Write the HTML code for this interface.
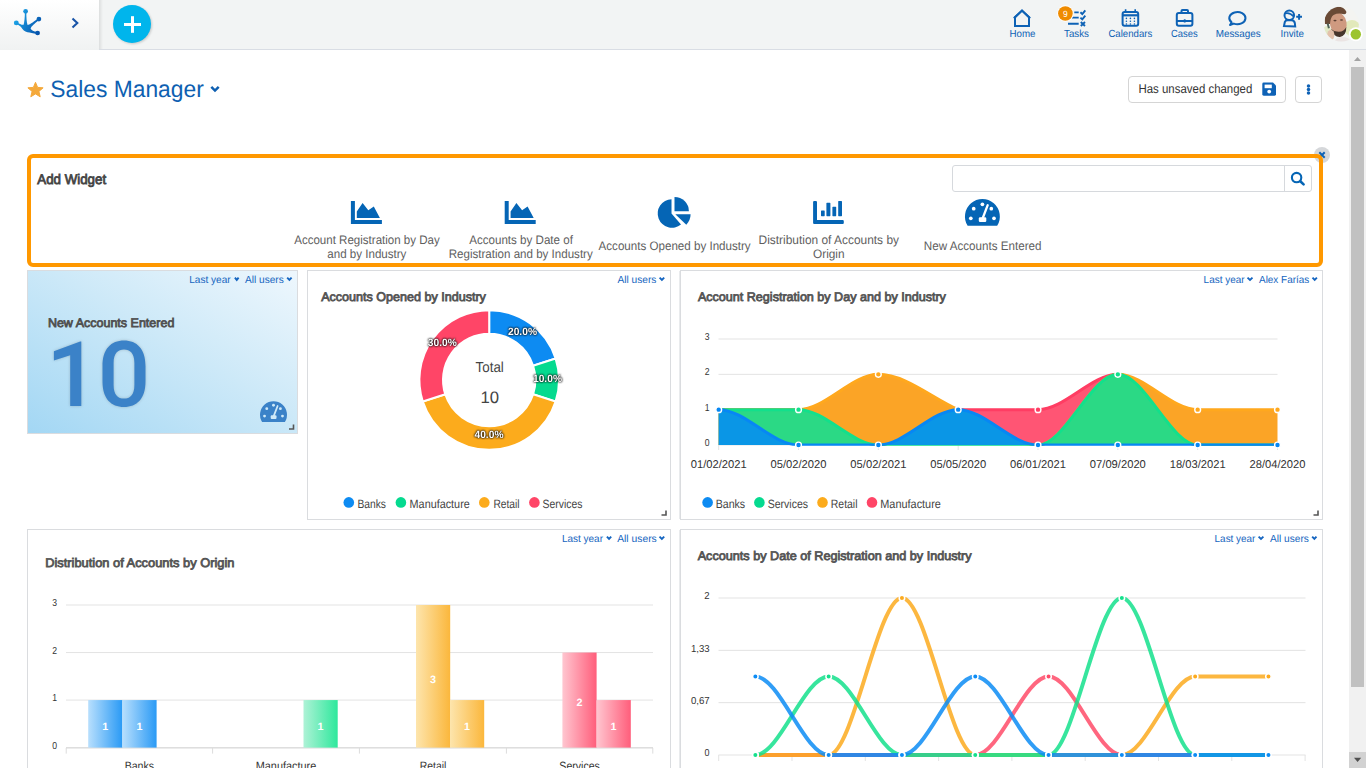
<!DOCTYPE html>
<html><head><meta charset="utf-8"><style>
*{margin:0;padding:0;box-sizing:border-box}
html,body{width:1366px;height:768px;overflow:hidden;background:#fff;font-family:"Liberation Sans",sans-serif}
.t{position:absolute;white-space:nowrap;line-height:1;transform-origin:0 0}
.a{position:absolute}
svg{position:absolute;overflow:visible}
</style></head><body>
<div class="a" style="left:0;top:0;width:1366px;height:50px;background:#f2f4f4;border-bottom:1px solid #d9dde4"></div><div class="a" style="left:0;top:0;width:99px;height:50px;background:linear-gradient(to bottom,#ffffff,#f0f2f2)"></div><div class="a" style="left:99px;top:0;width:4px;height:49px;background:linear-gradient(to right,rgba(0,0,0,0.09),rgba(0,0,0,0))"></div><svg width="1366" height="50" style="left:0;top:0">
<defs><linearGradient id="lg" gradientUnits="userSpaceOnUse" x1="14" y1="18" x2="40" y2="30"><stop offset="0" stop-color="#1ea8ea"/><stop offset="1" stop-color="#0652ab"/></linearGradient></defs>
<g fill="url(#lg)">
<circle cx="25.6" cy="11.3" r="2.35"/>
<circle cx="16.3" cy="22.9" r="2.45"/>
<circle cx="38.9" cy="19.1" r="2.35"/>
<circle cx="37.6" cy="33" r="2.35"/>
<path d="M16.5,22.2 C19.5,23.8 21.5,25 23.6,24.8 C24.4,22 24.8,18 24.9,12 L26.3,12 C26.4,18 26.6,22.5 27.6,25 C29.5,24.8 32,23 38.2,18.3 L39.4,19.8 C34,24 31.8,26 30.6,28.4 C31.5,30.2 33.5,31.5 37.3,32 L37.1,34 C33,33.2 30,32.6 27.5,32.2 C24.5,31.8 22.8,30 21.2,27.3 C20,25.8 18.5,25 16,23.8 Z"/>
</g>
<path d="M72.5,18.5 L77.3,23 L72.5,27.5" stroke="#1a55a8" stroke-width="2.1" fill="none"/>
<circle cx="133" cy="25" r="19" fill="rgba(0,0,0,0.18)" filter="blur(1px)"/>
<circle cx="132" cy="24" r="19" fill="#00b5ec"/>
<rect x="124" y="23" width="17" height="3" fill="#fff"/>
<rect x="131" y="16.2" width="3" height="16.6" fill="#fff"/>
<g stroke="#0e62b5" stroke-width="2" fill="none" stroke-linejoin="miter">
<path d="M1015,26 V17.2 L1022,10.6 L1029,17.2 V26 Z"/>
<path d="M1013.8,18.3 L1022,10.6 L1030.2,18.3" stroke-width="2"/>
</g>
<g stroke="#0e62b5" stroke-width="1.9" fill="none">
<path d="M1074.3,12.4 H1078.7 M1072,17.6 H1078.7 M1068,23.8 H1078.7"/>
<path d="M1080.4,12.2 L1082.3,14 L1085.3,10.3 M1080.4,17.6 L1082.3,19.4 L1085.3,15.7 M1080.8,22 L1085,26 M1085,22 L1080.8,26"/>
</g>
<circle cx="1065.4" cy="13.5" r="8.2" fill="#fff"/>
<circle cx="1065.4" cy="13.5" r="7.3" fill="#ef8b00"/>
<g stroke="#0e62b5" stroke-width="2" fill="none">
<rect x="1122.6" y="12" width="15.6" height="13.7" rx="2"/>
<path d="M1122.6,15.3 H1138.2" stroke-width="2.2"/>
<path d="M1125.6,9.2 V13 M1135.2,9.2 V13" stroke-width="1.6"/>
</g>
<g fill="#0e62b5">
<circle cx="1126.4" cy="18.4" r="0.8"/><circle cx="1130.4" cy="18.4" r="0.8"/><circle cx="1134.4" cy="18.4" r="0.8"/>
<circle cx="1126.4" cy="21.2" r="0.8"/><circle cx="1130.4" cy="21.2" r="0.8"/><circle cx="1134.4" cy="21.2" r="0.8"/>
<circle cx="1126.4" cy="24" r="0.8"/><circle cx="1130.4" cy="24" r="0.8"/><circle cx="1134.4" cy="24" r="0.8"/>
</g>
<g stroke="#0e62b5" stroke-width="2" fill="none">
<rect x="1181.5" y="10" width="6.5" height="3" rx="1"/>
<rect x="1176.8" y="13" width="15.6" height="12.8" rx="2"/>
<path d="M1176.8,21 H1192.4"/>
</g>
<rect x="1183.8" y="19.3" width="1.8" height="3.2" fill="#0e62b5"/>
<g stroke="#0e62b5" stroke-width="2" fill="none">
<path d="M1231.6,22.4 A8.1,6.1 0 1 1 1233.8,23.6 L1230,25 Z" stroke-linejoin="round"/>
</g>
<g stroke="#0e62b5" stroke-width="2" fill="none">
<circle cx="1289.3" cy="15.3" r="4.8"/>
<path d="M1285,13.5 Q1289.5,12 1293.6,16.5" stroke-width="1.6"/>
<path d="M1284,26 L1284.8,22 Q1285.5,20.3 1287.5,20.3 H1291.5 Q1294.3,20.3 1294.8,23 L1295.2,26.4 Z"/>
<path d="M1296.2,16.8 H1302 M1299.1,13.9 V19.7"/>
</g>
<defs><clipPath id="av"><circle cx="1341.3" cy="24" r="17.6"/></clipPath>
<radialGradient id="avbg" cx="0.7" cy="0.35" r="0.8"><stop offset="0" stop-color="#fbfbf8"/><stop offset="1" stop-color="#e4ead2"/></radialGradient></defs>
<g clip-path="url(#av)"><g style="filter:blur(0.5px)">
<rect x="1323" y="6" width="36" height="36" fill="#f4f4f1"/>
<ellipse cx="1352" cy="28" rx="8" ry="8" fill="#e2e9bb"/>
<ellipse cx="1327" cy="33" rx="5" ry="7" fill="#e1e9c6"/>
<path d="M1334,42 Q1337,36.5 1342,37 Q1349,37 1352,42 Z" fill="#ebe4e3"/>
<ellipse cx="1338.3" cy="23.5" rx="8.3" ry="11.2" fill="#cf9a80" transform="rotate(-10 1338.3 23.5)"/>
<path d="M1325,24 Q1323.5,9 1335,7 Q1344,6 1346.5,12 Q1346,15 1343,14 Q1338,12.8 1333.5,15 Q1330.5,17 1330,24 Z" fill="#6a4a36"/>
<path d="M1331,29 Q1334,37.5 1340,37 Q1346.5,35.5 1346.3,27 Q1344,31.5 1339,31.8 Q1334,32 1331,29 Z" fill="#47352b"/>
<ellipse cx="1335" cy="20.6" rx="1.6" ry="0.8" fill="#5d4033"/><ellipse cx="1341.5" cy="20" rx="1.6" ry="0.8" fill="#5d4033"/>
<ellipse cx="1330.8" cy="35" rx="3.6" ry="5.2" fill="#e3c1ab"/>
<rect x="1327.3" y="23.5" width="2" height="5" fill="#4e6255" transform="rotate(-15 1328 26)"/>
</g></g>
<circle cx="1355.8" cy="34.3" r="7" fill="#fff"/>
<circle cx="1355.8" cy="34.3" r="5.2" fill="#9cc42f"/>
</svg><div class="a" style="left:1349px;top:50px;width:17px;height:718px;background:#f1f1f1"></div><div class="a" style="left:1351px;top:67px;width:13px;height:620px;background:#c1c1c1"></div><div class="a" style="left:1349px;top:752px;width:17px;height:16px;background:#d2d2d2"></div><svg width="1366" height="768" style="left:0;top:0"><path d="M1354,61 L1357.5,57 L1361,61Z" fill="#a3a3a3"/><path d="M1354,757.8 L1357.6,762 L1361.2,757.8Z" fill="#505050"/></svg><svg width="1366" height="768" style="left:0;top:0"><path d="M35.50,82.30 L37.62,87.39 L43.11,87.83 L38.92,91.41 L40.20,96.77 L35.50,93.90 L30.80,96.77 L32.08,91.41 L27.89,87.83 L33.38,87.39Z" fill="#f4a93b" stroke="#f4a93b" stroke-width="1" stroke-linejoin="round"/><path d="M211.3,86.9 L215,90.6 L218.7,86.9" stroke="#0e5fb1" stroke-width="2.5" fill="none"/></svg><div class="a" style="left:1128px;top:76px;width:158px;height:27px;border:1px solid #d5d5d5;border-radius:4px;background:#fff"></div><div class="a" style="left:1295px;top:76px;width:27px;height:27px;border:1px solid #d5d5d5;border-radius:4px;background:#fff"></div><svg width="1366" height="768" style="left:0;top:0">
<path d="M1262.3,84 Q1262.3,82.6 1263.7,82.6 H1273 L1276,85.6 V94.3 Q1276,95.7 1274.6,95.7 H1263.7 Q1262.3,95.7 1262.3,94.3Z" fill="#0e62b6"/>
<rect x="1264.6" y="84.6" width="7.2" height="3.6" fill="#fff"/>
<circle cx="1269.2" cy="91.6" r="1.9" fill="#fff"/>
<circle cx="1308.5" cy="86.1" r="1.75" fill="#0e62b6"/><circle cx="1308.5" cy="89.5" r="1.75" fill="#0e62b6"/><circle cx="1308.5" cy="92.9" r="1.75" fill="#0e62b6"/>
</svg><div class="a" style="left:27px;top:154px;width:1296px;height:113px;border-radius:6px;background:#fff"></div><div class="a" style="left:952px;top:165px;width:360px;height:27px;border:1px solid #d6d9dd;border-radius:3px;background:#fff"></div><div class="a" style="left:1284px;top:166px;width:1px;height:25px;background:#d6d9dd"></div><svg width="1366" height="768" style="left:0;top:0"><path d="M350.9,200.9 H354.9 V220.1 H381.9 V224 H350.9 Z" fill="#0565b5"/><path d="M356.8,218 V211.4 L362.6,203 L368.3,210.3 L373.8,206.4 L379.9,218 Z" fill="#0565b5"/><path d="M504.7,200.9 H508.7 V220.1 H535.7 V224 H504.7 Z" fill="#0565b5"/><path d="M510.6,218 V211.4 L516.4000000000001,203 L522.1,210.3 L527.6,206.4 L533.7,218 Z" fill="#0565b5"/><path d="M671.5,199.2 A14.3,14.3 0 1 0 681,224.6 L671.5,213.5 Z" fill="#0565b5"/><path d="M674.5,211.2 V196.9 A14.4,14.4 0 0 1 688.9,211.2 Z" fill="#0565b5"/><path d="M675.3,214.3 H690.6 A15.3,15.3 0 0 1 686.3,224.7 Z" fill="#0565b5"/><path d="M813.1,202 Q813.1,200.9 814.2,200.9 H815.9 Q817,200.9 817,202 V220.1 H842.7 Q843.8,220.1 843.8,221.2 V222.9 Q843.8,224 842.7,224 H814.2 Q813.1,224 813.1,222.9 Z" fill="#0565b5"/><rect x="821" y="210.5" width="3.7" height="5.7" rx="0.6" fill="#0565b5"/><rect x="826.4" y="202.8" width="4" height="13.4" rx="0.6" fill="#0565b5"/><rect x="832.4" y="206.8" width="3.8" height="9.4" rx="0.6" fill="#0565b5"/><rect x="838.2" y="200.9" width="3.8" height="15.3" rx="0.6" fill="#0565b5"/><path d="M967.63,225.80 A17.45,17.45 0 1 1 997.17,225.80 Z" fill="#0565b5"/><circle cx="982.40" cy="204.30" r="1.85" fill="#fff"/><circle cx="973.70" cy="208.70" r="1.85" fill="#fff"/><circle cx="991.30" cy="208.70" r="1.85" fill="#fff"/><circle cx="970.80" cy="218.30" r="1.85" fill="#fff"/><circle cx="994.00" cy="218.30" r="1.85" fill="#fff"/><path d="M982.40,219.00 L987.70,205.20" stroke="#fff" stroke-width="2.30" stroke-linecap="round"/><rect x="978.80" y="217.30" width="7.50" height="4.60" rx="1.20" fill="#fff"/><circle cx="1296.6" cy="177.6" r="4.7" stroke="#0565b5" stroke-width="2.1" fill="none"/><path d="M1300.3,181.3 L1303.6,184.4" stroke="#0565b5" stroke-width="2.6" stroke-linecap="round"/><circle cx="1322" cy="155" r="8" fill="#d5d7da"/><path d="M1319.3,152.3 L1324.7,157.7 M1324.7,152.3 L1319.3,157.7" stroke="#0e62b5" stroke-width="2" stroke-linecap="butt"/></svg><div class="a" style="left:27px;top:154px;width:1296px;height:113px;border:4px solid #ff9800;border-radius:6px"></div><div class="a" style="left:27px;top:270px;width:271px;height:164px;border:1px solid #dadcdf;background:linear-gradient(to top right,#a3d7f4 0%,#cde9f8 55%,#eef7fd 100%)"></div><svg width="1366" height="768" style="left:0;top:0"><path d="M234.90,277.60 L236.75,279.90 L238.60,277.60" stroke="#1565c0" stroke-width="1.9" fill="none"/><path d="M287.20,277.60 L289.40,279.90 L291.60,277.60" stroke="#1565c0" stroke-width="1.9" fill="none"/></svg><svg width="1366" height="768" style="left:0;top:0"><g fill="#3b82c8" style="filter:drop-shadow(0 0 1.5px rgba(0,0,0,0.18))"><path d="M70.2,355.2 L53.9,360.4 L53.9,351.2 L80.2,341.6 L81.3,341.6 L81.3,406.1 L70.2,406.1 Z"/><path fill-rule="evenodd" d="M124,340.5 C137,340.5 145.5,349 145.5,366 L145.5,381.4 C145.5,398.4 137,406.9 124,406.9 C111,406.9 102.5,398.4 102.5,381.4 L102.5,366 C102.5,349 111,340.5 124,340.5 Z M124,349.4 C118,349.4 113.6,353 113.6,363 L113.6,385 C113.6,395 118,398.6 124,398.6 C130,398.6 134.4,395 134.4,385 L134.4,363 C134.4,353 130,349.4 124,349.4 Z"/></g></svg><svg width="1366" height="768" style="left:0;top:0"><path d="M262.08,421.89 A13.50,13.50 0 1 1 284.92,421.89 Z" fill="#3b82c8"/><circle cx="273.50" cy="405.26" r="1.43" fill="#cfe9f8"/><circle cx="266.77" cy="408.67" r="1.43" fill="#cfe9f8"/><circle cx="280.39" cy="408.67" r="1.43" fill="#cfe9f8"/><circle cx="264.53" cy="416.09" r="1.43" fill="#cfe9f8"/><circle cx="282.47" cy="416.09" r="1.43" fill="#cfe9f8"/><path d="M273.50,416.63 L277.60,405.96" stroke="#cfe9f8" stroke-width="1.78" stroke-linecap="round"/><rect x="270.71" y="415.32" width="5.80" height="3.56" rx="0.93" fill="#cfe9f8"/><path d="M289.00,429.00 H293.50 V424.50" stroke="#555" stroke-width="1.6" fill="none"/></svg><div class="a" style="left:307px;top:270px;width:364px;height:250px;border:1px solid #dadcdf;background:#fff"></div><svg width="1366" height="768" style="left:0;top:0"><path d="M659.60,277.60 L661.90,279.90 L664.20,277.60" stroke="#1565c0" stroke-width="1.9" fill="none"/></svg><svg width="1366" height="768" style="left:0;top:0"><path d="M489.20,310.20 A69.8,69.8 0 0 1 555.58,358.43 L533.14,365.72 A46.2,46.2 0 0 0 489.20,333.80 Z" fill="#0d8bf2" stroke="#fff" stroke-width="2" stroke-linejoin="miter"/><path d="M555.58,358.43 A69.8,69.8 0 0 1 555.58,401.57 L533.14,394.28 A46.2,46.2 0 0 0 533.14,365.72 Z" fill="#05da8f" stroke="#fff" stroke-width="2" stroke-linejoin="miter"/><path d="M555.58,401.57 A69.8,69.8 0 0 1 422.82,401.57 L445.26,394.28 A46.2,46.2 0 0 0 533.14,394.28 Z" fill="#fcab1c" stroke="#fff" stroke-width="2" stroke-linejoin="miter"/><path d="M422.82,401.57 A69.8,69.8 0 0 1 489.20,310.20 L489.20,333.80 A46.2,46.2 0 0 0 445.26,394.28 Z" fill="#ff4567" stroke="#fff" stroke-width="2" stroke-linejoin="miter"/><path d="M661.50,515.00 H666.00 V510.50" stroke="#555" stroke-width="1.6" fill="none"/><circle cx="348.8" cy="502.4" r="5.3" fill="#0d8bf2"/><circle cx="400.9" cy="502.4" r="5.3" fill="#05da8f"/><circle cx="484.3" cy="502.4" r="5.3" fill="#fcab1c"/><circle cx="534.4" cy="502.4" r="5.3" fill="#ff4567"/></svg><div class="a" style="left:680px;top:270px;width:643px;height:250px;border:1px solid #dadcdf;background:#fff"></div><div class="a" style="left:679px;top:271px;width:1px;height:248px;background:#e9ebed"></div><svg width="1366" height="768" style="left:0;top:0"><path d="M1247.50,277.60 L1250.00,279.90 L1252.50,277.60" stroke="#1565c0" stroke-width="1.9" fill="none"/><path d="M1312.50,277.60 L1314.70,279.90 L1316.90,277.60" stroke="#1565c0" stroke-width="1.9" fill="none"/></svg><svg width="1366" height="768" style="left:0;top:0"><rect x="718.5" y="444.50" width="559" height="1" fill="#e3e3e3"/><rect x="718.5" y="409.17" width="559" height="1" fill="#e3e3e3"/><rect x="718.5" y="373.84" width="559" height="1" fill="#e3e3e3"/><rect x="718.5" y="338.51" width="559" height="1" fill="#e3e3e3"/><rect x="718.20" y="445" width="1" height="5" fill="#e3e3e3"/><rect x="798.03" y="445" width="1" height="5" fill="#e3e3e3"/><rect x="877.86" y="445" width="1" height="5" fill="#e3e3e3"/><rect x="957.69" y="445" width="1" height="5" fill="#e3e3e3"/><rect x="1037.51" y="445" width="1" height="5" fill="#e3e3e3"/><rect x="1117.34" y="445" width="1" height="5" fill="#e3e3e3"/><rect x="1197.17" y="445" width="1" height="5" fill="#e3e3e3"/><rect x="1277.00" y="445" width="1" height="5" fill="#e3e3e3"/><defs><clipPath id="c3"><rect x="700" y="300" width="600" height="145.7"/></clipPath></defs><g clip-path="url(#c3)"><path d="M718.70,409.67 C745.31,409.67 771.92,409.67 798.53,409.67 C825.14,409.67 851.75,445.00 878.36,445.00 C904.97,445.00 931.58,409.67 958.19,409.67 C984.80,409.67 1011.40,409.67 1038.01,409.67 C1064.62,409.67 1091.23,374.34 1117.84,374.34 C1144.45,374.34 1171.06,445.00 1197.67,445.00 C1224.28,445.00 1250.89,445.00 1277.50,445.00 L1277.50,445 L718.70,445 Z" fill="#ff5574"/><path d="M718.70,409.67 C745.31,409.67 771.92,409.67 798.53,409.67 C825.14,409.67 851.75,445.00 878.36,445.00 C904.97,445.00 931.58,409.67 958.19,409.67 C984.80,409.67 1011.40,409.67 1038.01,409.67 C1064.62,409.67 1091.23,374.34 1117.84,374.34 C1144.45,374.34 1171.06,445.00 1197.67,445.00 C1224.28,445.00 1250.89,445.00 1277.50,445.00" fill="none" stroke="#ff3d63" stroke-width="3"/><path d="M718.70,409.67 C745.31,409.67 771.92,409.67 798.53,409.67 C825.14,409.67 851.75,374.34 878.36,374.34 C904.97,374.34 931.58,397.89 958.19,409.67 C984.80,421.45 1011.40,445.00 1038.01,445.00 C1064.62,445.00 1091.23,374.34 1117.84,374.34 C1144.45,374.34 1171.06,409.67 1197.67,409.67 C1224.28,409.67 1250.89,409.67 1277.50,409.67 L1277.50,445 L718.70,445 Z" fill="#fba426"/><path d="M718.70,409.67 C745.31,409.67 771.92,409.67 798.53,409.67 C825.14,409.67 851.75,374.34 878.36,374.34 C904.97,374.34 931.58,397.89 958.19,409.67 C984.80,421.45 1011.40,445.00 1038.01,445.00 C1064.62,445.00 1091.23,374.34 1117.84,374.34 C1144.45,374.34 1171.06,409.67 1197.67,409.67 C1224.28,409.67 1250.89,409.67 1277.50,409.67" fill="none" stroke="#ffa81e" stroke-width="3"/><path d="M718.70,409.67 C745.31,409.67 771.92,409.67 798.53,409.67 C825.14,409.67 851.75,445.00 878.36,445.00 C904.97,445.00 931.58,445.00 958.19,445.00 C984.80,445.00 1011.40,445.00 1038.01,445.00 C1064.62,445.00 1091.23,374.34 1117.84,374.34 C1144.45,374.34 1171.06,445.00 1197.67,445.00 C1224.28,445.00 1250.89,445.00 1277.50,445.00 L1277.50,445 L718.70,445 Z" fill="#2bd985"/><path d="M718.70,409.67 C745.31,409.67 771.92,409.67 798.53,409.67 C825.14,409.67 851.75,445.00 878.36,445.00 C904.97,445.00 931.58,445.00 958.19,445.00 C984.80,445.00 1011.40,445.00 1038.01,445.00 C1064.62,445.00 1091.23,374.34 1117.84,374.34 C1144.45,374.34 1171.06,445.00 1197.67,445.00 C1224.28,445.00 1250.89,445.00 1277.50,445.00" fill="none" stroke="#12e08c" stroke-width="3"/><path d="M718.70,409.67 C745.31,409.67 771.92,445.00 798.53,445.00 C825.14,445.00 851.75,445.00 878.36,445.00 C904.97,445.00 931.58,409.67 958.19,409.67 C984.80,409.67 1011.40,445.00 1038.01,445.00 C1064.62,445.00 1091.23,445.00 1117.84,445.00 C1144.45,445.00 1171.06,445.00 1197.67,445.00 C1224.28,445.00 1250.89,445.00 1277.50,445.00 L1277.50,445 L718.70,445 Z" fill="#0a96e6"/><path d="M718.70,409.67 C745.31,409.67 771.92,445.00 798.53,445.00 C825.14,445.00 851.75,445.00 878.36,445.00 C904.97,445.00 931.58,409.67 958.19,409.67 C984.80,409.67 1011.40,445.00 1038.01,445.00 C1064.62,445.00 1091.23,445.00 1117.84,445.00 C1144.45,445.00 1171.06,445.00 1197.67,445.00 C1224.28,445.00 1250.89,445.00 1277.50,445.00" fill="none" stroke="#0787f4" stroke-width="3"/></g><circle cx="718.70" cy="409.67" r="2.9" fill="#0787f4" stroke="#fff" stroke-width="1.4"/><circle cx="798.53" cy="409.67" r="2.9" fill="#12e08c" stroke="#fff" stroke-width="1.4"/><circle cx="798.53" cy="445.00" r="2.9" fill="#0787f4" stroke="#fff" stroke-width="1.4"/><circle cx="878.36" cy="374.34" r="2.9" fill="#ffa81e" stroke="#fff" stroke-width="1.4"/><circle cx="878.36" cy="445.00" r="2.9" fill="#0787f4" stroke="#fff" stroke-width="1.4"/><circle cx="958.19" cy="409.67" r="2.9" fill="#0787f4" stroke="#fff" stroke-width="1.4"/><circle cx="1038.01" cy="409.67" r="2.9" fill="#ff3d63" stroke="#fff" stroke-width="1.4"/><circle cx="1038.01" cy="445.00" r="2.9" fill="#0787f4" stroke="#fff" stroke-width="1.4"/><circle cx="1117.84" cy="374.34" r="2.9" fill="#12e08c" stroke="#fff" stroke-width="1.4"/><circle cx="1117.84" cy="445.00" r="2.9" fill="#0787f4" stroke="#fff" stroke-width="1.4"/><circle cx="1197.67" cy="409.67" r="2.9" fill="#ffa81e" stroke="#fff" stroke-width="1.4"/><circle cx="1197.67" cy="445.00" r="2.9" fill="#0787f4" stroke="#fff" stroke-width="1.4"/><circle cx="1277.50" cy="409.67" r="2.9" fill="#ffa81e" stroke="#fff" stroke-width="1.4"/><circle cx="1277.50" cy="445.00" r="2.9" fill="#0787f4" stroke="#fff" stroke-width="1.4"/><path d="M1313.50,515.00 H1318.00 V510.50" stroke="#555" stroke-width="1.6" fill="none"/><circle cx="707.6" cy="502.4" r="5.3" fill="#0d8bf2"/><circle cx="759.4" cy="502.4" r="5.3" fill="#05da8f"/><circle cx="822.5" cy="502.4" r="5.3" fill="#fcab1c"/><circle cx="872" cy="502.4" r="5.3" fill="#ff4567"/></svg><div class="a" style="left:27px;top:529px;width:644px;height:271px;border:1px solid #dadcdf;background:#fff"></div><svg width="1366" height="768" style="left:0;top:0"><path d="M606.90,536.60 L609.05,538.90 L611.20,536.60" stroke="#1565c0" stroke-width="1.9" fill="none"/><path d="M659.50,536.60 L661.85,538.90 L664.20,536.60" stroke="#1565c0" stroke-width="1.9" fill="none"/></svg><svg width="1366" height="768" style="left:0;top:0"><defs><linearGradient id="gb" x1="0" y1="0" x2="1" y2="0"><stop offset="0" stop-color="#b8dffd"/><stop offset="1" stop-color="#2a9af5"/></linearGradient><linearGradient id="gg" x1="0" y1="0" x2="1" y2="0"><stop offset="0" stop-color="#aef2d6"/><stop offset="1" stop-color="#2ee89c"/></linearGradient><linearGradient id="go" x1="0" y1="0" x2="1" y2="0"><stop offset="0" stop-color="#fde5ad"/><stop offset="1" stop-color="#fbb73c"/></linearGradient><linearGradient id="gr" x1="0" y1="0" x2="1" y2="0"><stop offset="0" stop-color="#ffc6d0"/><stop offset="1" stop-color="#ff5e7b"/></linearGradient></defs><rect x="66" y="747.10" width="587" height="1" fill="#e3e3e3"/><rect x="66" y="699.57" width="587" height="1" fill="#e3e3e3"/><rect x="66" y="652.04" width="587" height="1" fill="#e3e3e3"/><rect x="66" y="604.51" width="587" height="1" fill="#e3e3e3"/><rect x="66" y="747.2" width="587" height="1.3" fill="#dcdcdc"/><rect x="65.70" y="748" width="1" height="5.6" fill="#dcdcdc"/><rect x="212.10" y="748" width="1" height="5.6" fill="#dcdcdc"/><rect x="358.90" y="748" width="1" height="5.6" fill="#dcdcdc"/><rect x="505.90" y="748" width="1" height="5.6" fill="#dcdcdc"/><rect x="652.30" y="748" width="1" height="5.6" fill="#dcdcdc"/><rect x="88.20" y="700.07" width="34.2" height="47.53" fill="url(#gb)"/><rect x="122.40" y="700.07" width="34.2" height="47.53" fill="url(#gb)"/><rect x="303.50" y="700.07" width="34.2" height="47.53" fill="url(#gg)"/><rect x="416.00" y="605.01" width="34.2" height="142.59" fill="url(#go)"/><rect x="450.00" y="700.07" width="34.2" height="47.53" fill="url(#go)"/><rect x="562.40" y="652.54" width="34.2" height="95.06" fill="url(#gr)"/><rect x="596.60" y="700.07" width="34.2" height="47.53" fill="url(#gr)"/></svg><div class="a" style="left:680px;top:529px;width:643px;height:271px;border:1px solid #dadcdf;background:#fff"></div><div class="a" style="left:679px;top:530px;width:1px;height:240px;background:#e9ebed"></div><svg width="1366" height="768" style="left:0;top:0"><path d="M1258.60,536.60 L1261.00,538.90 L1263.40,536.60" stroke="#1565c0" stroke-width="1.9" fill="none"/><path d="M1312.20,536.60 L1314.35,538.90 L1316.50,536.60" stroke="#1565c0" stroke-width="1.9" fill="none"/></svg><svg width="1366" height="768" style="left:0;top:0"><rect x="718.5" y="754.50" width="587" height="1" fill="#e3e3e3"/><rect x="718.5" y="702.14" width="587" height="1" fill="#e3e3e3"/><rect x="718.5" y="649.86" width="587" height="1" fill="#e3e3e3"/><rect x="718.5" y="597.50" width="587" height="1" fill="#e3e3e3"/><rect x="718.20" y="755" width="1" height="6" fill="#e3e3e3"/><rect x="791.50" y="755" width="1" height="6" fill="#e3e3e3"/><rect x="864.80" y="755" width="1" height="6" fill="#e3e3e3"/><rect x="938.10" y="755" width="1" height="6" fill="#e3e3e3"/><rect x="1011.40" y="755" width="1" height="6" fill="#e3e3e3"/><rect x="1084.70" y="755" width="1" height="6" fill="#e3e3e3"/><rect x="1158.00" y="755" width="1" height="6" fill="#e3e3e3"/><rect x="1231.30" y="755" width="1" height="6" fill="#e3e3e3"/><rect x="1304.60" y="755" width="1" height="6" fill="#e3e3e3"/><path d="M755.35,755.00 C779.78,755.00 804.22,755.00 828.65,755.00 C853.08,755.00 877.52,755.00 901.95,755.00 C926.38,755.00 950.82,755.00 975.25,755.00 C999.68,755.00 1024.12,676.50 1048.55,676.50 C1072.98,676.50 1097.42,755.00 1121.85,755.00 C1146.28,755.00 1170.72,755.00 1195.15,755.00 C1219.58,755.00 1244.02,755.00 1268.45,755.00" fill="none" stroke="rgba(255,75,105,0.85)" stroke-width="4"/><path d="M755.35,755.00 C779.78,755.00 804.22,755.00 828.65,755.00 C853.08,755.00 877.52,598.00 901.95,598.00 C926.38,598.00 950.82,755.00 975.25,755.00 C999.68,755.00 1024.12,755.00 1048.55,755.00 C1072.98,755.00 1097.42,755.00 1121.85,755.00 C1146.28,755.00 1170.72,676.50 1195.15,676.50 C1219.58,676.50 1244.02,676.50 1268.45,676.50" fill="none" stroke="rgba(252,170,30,0.85)" stroke-width="4"/><path d="M755.35,755.00 C779.78,755.00 804.22,676.50 828.65,676.50 C853.08,676.50 877.52,755.00 901.95,755.00 C926.38,755.00 950.82,755.00 975.25,755.00 C999.68,755.00 1024.12,755.00 1048.55,755.00 C1072.98,755.00 1097.42,598.00 1121.85,598.00 C1146.28,598.00 1170.72,755.00 1195.15,755.00 C1219.58,755.00 1244.02,755.00 1268.45,755.00" fill="none" stroke="rgba(20,224,140,0.85)" stroke-width="4"/><path d="M755.35,676.50 C779.78,676.50 804.22,755.00 828.65,755.00 C853.08,755.00 877.52,755.00 901.95,755.00 C926.38,755.00 950.82,676.50 975.25,676.50 C999.68,676.50 1024.12,755.00 1048.55,755.00 C1072.98,755.00 1097.42,755.00 1121.85,755.00 C1146.28,755.00 1170.72,755.00 1195.15,755.00 C1219.58,755.00 1244.02,755.00 1268.45,755.00" fill="none" stroke="rgba(12,140,245,0.85)" stroke-width="4"/><circle cx="755.35" cy="755.00" r="2.75" fill="#ff4b69" stroke="#fff" stroke-width="1.5"/><circle cx="828.65" cy="755.00" r="2.75" fill="#ff4b69" stroke="#fff" stroke-width="1.5"/><circle cx="901.95" cy="755.00" r="2.75" fill="#ff4b69" stroke="#fff" stroke-width="1.5"/><circle cx="975.25" cy="755.00" r="2.75" fill="#ff4b69" stroke="#fff" stroke-width="1.5"/><circle cx="1048.55" cy="676.50" r="2.75" fill="#ff4b69" stroke="#fff" stroke-width="1.5"/><circle cx="1121.85" cy="755.00" r="2.75" fill="#ff4b69" stroke="#fff" stroke-width="1.5"/><circle cx="1195.15" cy="755.00" r="2.75" fill="#ff4b69" stroke="#fff" stroke-width="1.5"/><circle cx="1268.45" cy="755.00" r="2.75" fill="#ff4b69" stroke="#fff" stroke-width="1.5"/><circle cx="755.35" cy="755.00" r="2.75" fill="#fcaa1e" stroke="#fff" stroke-width="1.5"/><circle cx="828.65" cy="755.00" r="2.75" fill="#fcaa1e" stroke="#fff" stroke-width="1.5"/><circle cx="901.95" cy="598.00" r="2.75" fill="#fcaa1e" stroke="#fff" stroke-width="1.5"/><circle cx="975.25" cy="755.00" r="2.75" fill="#fcaa1e" stroke="#fff" stroke-width="1.5"/><circle cx="1048.55" cy="755.00" r="2.75" fill="#fcaa1e" stroke="#fff" stroke-width="1.5"/><circle cx="1121.85" cy="755.00" r="2.75" fill="#fcaa1e" stroke="#fff" stroke-width="1.5"/><circle cx="1195.15" cy="676.50" r="2.75" fill="#fcaa1e" stroke="#fff" stroke-width="1.5"/><circle cx="1268.45" cy="676.50" r="2.75" fill="#fcaa1e" stroke="#fff" stroke-width="1.5"/><circle cx="755.35" cy="755.00" r="2.75" fill="#14e08c" stroke="#fff" stroke-width="1.5"/><circle cx="828.65" cy="676.50" r="2.75" fill="#14e08c" stroke="#fff" stroke-width="1.5"/><circle cx="901.95" cy="755.00" r="2.75" fill="#14e08c" stroke="#fff" stroke-width="1.5"/><circle cx="975.25" cy="755.00" r="2.75" fill="#14e08c" stroke="#fff" stroke-width="1.5"/><circle cx="1048.55" cy="755.00" r="2.75" fill="#14e08c" stroke="#fff" stroke-width="1.5"/><circle cx="1121.85" cy="598.00" r="2.75" fill="#14e08c" stroke="#fff" stroke-width="1.5"/><circle cx="1195.15" cy="755.00" r="2.75" fill="#14e08c" stroke="#fff" stroke-width="1.5"/><circle cx="1268.45" cy="755.00" r="2.75" fill="#14e08c" stroke="#fff" stroke-width="1.5"/><circle cx="755.35" cy="676.50" r="2.75" fill="#0c8cf5" stroke="#fff" stroke-width="1.5"/><circle cx="828.65" cy="755.00" r="2.75" fill="#0c8cf5" stroke="#fff" stroke-width="1.5"/><circle cx="901.95" cy="755.00" r="2.75" fill="#0c8cf5" stroke="#fff" stroke-width="1.5"/><circle cx="975.25" cy="676.50" r="2.75" fill="#0c8cf5" stroke="#fff" stroke-width="1.5"/><circle cx="1048.55" cy="755.00" r="2.75" fill="#0c8cf5" stroke="#fff" stroke-width="1.5"/><circle cx="1121.85" cy="755.00" r="2.75" fill="#0c8cf5" stroke="#fff" stroke-width="1.5"/><circle cx="1195.15" cy="755.00" r="2.75" fill="#0c8cf5" stroke="#fff" stroke-width="1.5"/><circle cx="1268.45" cy="755.00" r="2.75" fill="#0c8cf5" stroke="#fff" stroke-width="1.5"/></svg><svg width="1366" height="768" style="left:0;top:0;font-family:'Liberation Sans',sans-serif;text-rendering:geometricPrecision">
<text x="1063.00" y="17" font-size="9.01" fill="#fff" textLength="4.71" lengthAdjust="spacingAndGlyphs">9</text>
<text x="1009.50" y="37" font-size="10.32" fill="#0e62b5" textLength="26.02" lengthAdjust="spacingAndGlyphs">Home</text>
<text x="1064.00" y="37" font-size="10.32" fill="#0e62b5" textLength="24.98" lengthAdjust="spacingAndGlyphs">Tasks</text>
<text x="1108.40" y="37" font-size="10.32" fill="#0e62b5" textLength="43.90" lengthAdjust="spacingAndGlyphs">Calendars</text>
<text x="1171.00" y="37" font-size="10.32" fill="#0e62b5" textLength="26.69" lengthAdjust="spacingAndGlyphs">Cases</text>
<text x="1215.70" y="37" font-size="10.32" fill="#0e62b5" textLength="45.09" lengthAdjust="spacingAndGlyphs">Messages</text>
<text x="1280.50" y="37" font-size="10.32" fill="#0e62b5" textLength="23.52" lengthAdjust="spacingAndGlyphs">Invite</text>
<text x="50.30" y="97" font-size="23.55" fill="#0e5fb1" textLength="153.51" lengthAdjust="spacingAndGlyphs">Sales Manager</text>
<text x="1138.50" y="93" font-size="12.65" fill="#333" textLength="113.80" lengthAdjust="spacingAndGlyphs">Has unsaved changed</text>
<text x="37.30" y="184" font-size="13.95" fill="#444" stroke="#444" stroke-width="0.8" textLength="68.81" lengthAdjust="spacingAndGlyphs">Add Widget</text>
<text x="294.20" y="244" font-size="12.35" fill="#5e5e5e" textLength="145.58" lengthAdjust="spacingAndGlyphs">Account Registration by Day</text>
<text x="327.30" y="258" font-size="12.35" fill="#5e5e5e" textLength="79.09" lengthAdjust="spacingAndGlyphs">and by Industry</text>
<text x="469.20" y="244" font-size="12.35" fill="#5e5e5e" textLength="103.68" lengthAdjust="spacingAndGlyphs">Accounts by Date of</text>
<text x="448.70" y="258" font-size="12.35" fill="#5e5e5e" textLength="144.08" lengthAdjust="spacingAndGlyphs">Registration and by Industry</text>
<text x="598.60" y="250" font-size="12.35" fill="#5e5e5e" textLength="152.07" lengthAdjust="spacingAndGlyphs">Accounts Opened by Industry</text>
<text x="758.60" y="244" font-size="12.35" fill="#5e5e5e" textLength="140.38" lengthAdjust="spacingAndGlyphs">Distribution of Accounts by</text>
<text x="813.00" y="258" font-size="12.35" fill="#5e5e5e" textLength="31.59" lengthAdjust="spacingAndGlyphs">Origin</text>
<text x="923.80" y="250" font-size="12.35" fill="#5e5e5e" textLength="117.69" lengthAdjust="spacingAndGlyphs">New Accounts Entered</text>
<text x="189.20" y="283" font-size="10.32" fill="#1565c0" textLength="41.42" lengthAdjust="spacingAndGlyphs">Last year</text>
<text x="245.00" y="283" font-size="10.32" fill="#1565c0" textLength="38.69" lengthAdjust="spacingAndGlyphs">All users</text>
<text x="47.90" y="327" font-size="12.50" fill="#505050" stroke="#505050" stroke-width="0.8">New Accounts Entered</text>
<text x="617.40" y="283" font-size="10.32" fill="#1565c0" textLength="38.99" lengthAdjust="spacingAndGlyphs">All users</text>
<text x="321.20" y="301" font-size="12.50" fill="#555" stroke="#555" stroke-width="0.8" textLength="164.68" lengthAdjust="spacingAndGlyphs">Accounts Opened by Industry</text>
<text x="357.50" y="508" font-size="12.06" fill="#444" textLength="28.49" lengthAdjust="spacingAndGlyphs">Banks</text>
<text x="409.60" y="508" font-size="12.06" fill="#444" textLength="60.18" lengthAdjust="spacingAndGlyphs">Manufacture</text>
<text x="493.40" y="508" font-size="12.06" fill="#444" textLength="26.21" lengthAdjust="spacingAndGlyphs">Retail</text>
<text x="542.50" y="508" font-size="12.06" fill="#444" textLength="39.90" lengthAdjust="spacingAndGlyphs">Services</text>
<text x="475.60" y="372" font-size="14.53" fill="#444" textLength="28.18" lengthAdjust="spacingAndGlyphs">Total</text>
<text x="480.40" y="403" font-size="16.57" fill="#444" textLength="18.61" lengthAdjust="spacingAndGlyphs">10</text>
<text x="508.00" y="335" font-size="10.47" fill="#fff" font-weight="bold" textLength="28.98" lengthAdjust="spacingAndGlyphs" style="filter:drop-shadow(0 0 0.8px rgba(0,0,0,0.95)) drop-shadow(0.5px 0.5px 0.6px rgba(0,0,0,0.8));">20.0%</text>
<text x="533.00" y="382" font-size="10.47" fill="#fff" font-weight="bold" textLength="28.98" lengthAdjust="spacingAndGlyphs" style="filter:drop-shadow(0 0 0.8px rgba(0,0,0,0.95)) drop-shadow(0.5px 0.5px 0.6px rgba(0,0,0,0.8));">10.0%</text>
<text x="474.50" y="438" font-size="10.47" fill="#fff" font-weight="bold" textLength="28.98" lengthAdjust="spacingAndGlyphs" style="filter:drop-shadow(0 0 0.8px rgba(0,0,0,0.95)) drop-shadow(0.5px 0.5px 0.6px rgba(0,0,0,0.8));">40.0%</text>
<text x="427.80" y="346" font-size="10.47" fill="#fff" font-weight="bold" textLength="28.98" lengthAdjust="spacingAndGlyphs" style="filter:drop-shadow(0 0 0.8px rgba(0,0,0,0.95)) drop-shadow(0.5px 0.5px 0.6px rgba(0,0,0,0.8));">30.0%</text>
<text x="1203.60" y="283" font-size="10.32" fill="#1565c0" textLength="40.92" lengthAdjust="spacingAndGlyphs">Last year</text>
<text x="1259.00" y="283" font-size="10.32" fill="#1565c0" textLength="50.29" lengthAdjust="spacingAndGlyphs">Alex Farías</text>
<text x="697.90" y="301" font-size="12.50" fill="#555" stroke="#555" stroke-width="0.8" textLength="248.00" lengthAdjust="spacingAndGlyphs">Account Registration by Day and by Industry</text>
<text x="704.80" y="340" font-size="10.17" fill="#333" textLength="4.80" lengthAdjust="spacingAndGlyphs">3</text>
<text x="704.80" y="375" font-size="10.17" fill="#333" textLength="4.80" lengthAdjust="spacingAndGlyphs">2</text>
<text x="704.80" y="411" font-size="10.17" fill="#333" textLength="4.80" lengthAdjust="spacingAndGlyphs">1</text>
<text x="704.80" y="446" font-size="10.17" fill="#333" textLength="4.80" lengthAdjust="spacingAndGlyphs">0</text>
<text x="690.70" y="468" font-size="11.34" fill="#333" textLength="56.00" lengthAdjust="spacingAndGlyphs">01/02/2021</text>
<text x="770.53" y="468" font-size="11.34" fill="#333" textLength="56.00" lengthAdjust="spacingAndGlyphs">05/02/2020</text>
<text x="850.36" y="468" font-size="11.34" fill="#333" textLength="56.00" lengthAdjust="spacingAndGlyphs">05/02/2021</text>
<text x="930.19" y="468" font-size="11.34" fill="#333" textLength="56.00" lengthAdjust="spacingAndGlyphs">05/05/2020</text>
<text x="1010.01" y="468" font-size="11.34" fill="#333" textLength="56.00" lengthAdjust="spacingAndGlyphs">06/01/2021</text>
<text x="1089.84" y="468" font-size="11.34" fill="#333" textLength="56.00" lengthAdjust="spacingAndGlyphs">07/09/2020</text>
<text x="1169.67" y="468" font-size="11.34" fill="#333" textLength="56.00" lengthAdjust="spacingAndGlyphs">18/03/2021</text>
<text x="1249.50" y="468" font-size="11.34" fill="#333" textLength="56.00" lengthAdjust="spacingAndGlyphs">28/04/2020</text>
<text x="715.70" y="508" font-size="12.06" fill="#444" textLength="29.49" lengthAdjust="spacingAndGlyphs">Banks</text>
<text x="767.70" y="508" font-size="12.06" fill="#444" textLength="40.30" lengthAdjust="spacingAndGlyphs">Services</text>
<text x="830.80" y="508" font-size="12.06" fill="#444" textLength="26.71" lengthAdjust="spacingAndGlyphs">Retail</text>
<text x="880.30" y="508" font-size="12.06" fill="#444" textLength="60.58" lengthAdjust="spacingAndGlyphs">Manufacture</text>
<text x="561.90" y="542" font-size="10.32" fill="#1565c0" textLength="41.12" lengthAdjust="spacingAndGlyphs">Last year</text>
<text x="617.20" y="542" font-size="10.32" fill="#1565c0">All users</text>
<text x="45.20" y="567" font-size="12.50" fill="#555" stroke="#555" stroke-width="0.8" textLength="189.31" lengthAdjust="spacingAndGlyphs">Distribution of Accounts by Origin</text>
<text x="102.20" y="730" font-size="10.61" fill="#fff" font-weight="bold" textLength="6.00" lengthAdjust="spacingAndGlyphs">1</text>
<text x="136.40" y="730" font-size="10.61" fill="#fff" font-weight="bold" textLength="6.00" lengthAdjust="spacingAndGlyphs">1</text>
<text x="317.50" y="730" font-size="10.61" fill="#fff" font-weight="bold" textLength="6.00" lengthAdjust="spacingAndGlyphs">1</text>
<text x="430.00" y="683" font-size="10.61" fill="#fff" font-weight="bold" textLength="6.00" lengthAdjust="spacingAndGlyphs">3</text>
<text x="464.00" y="730" font-size="10.61" fill="#fff" font-weight="bold" textLength="6.00" lengthAdjust="spacingAndGlyphs">1</text>
<text x="576.40" y="706" font-size="10.61" fill="#fff" font-weight="bold" textLength="6.00" lengthAdjust="spacingAndGlyphs">2</text>
<text x="610.60" y="730" font-size="10.61" fill="#fff" font-weight="bold" textLength="6.00" lengthAdjust="spacingAndGlyphs">1</text>
<text x="52.20" y="606" font-size="10.17" fill="#333" textLength="4.80" lengthAdjust="spacingAndGlyphs">3</text>
<text x="52.20" y="654" font-size="10.17" fill="#333" textLength="4.80" lengthAdjust="spacingAndGlyphs">2</text>
<text x="52.20" y="701" font-size="10.17" fill="#333" textLength="4.80" lengthAdjust="spacingAndGlyphs">1</text>
<text x="52.20" y="749" font-size="10.17" fill="#333" textLength="4.80" lengthAdjust="spacingAndGlyphs">0</text>
<text x="124.65" y="770" font-size="12.06" fill="#333" textLength="29.49" lengthAdjust="spacingAndGlyphs">Banks</text>
<text x="255.75" y="770" font-size="12.06" fill="#333" textLength="60.48" lengthAdjust="spacingAndGlyphs">Manufacture</text>
<text x="419.75" y="770" font-size="12.06" fill="#333" textLength="26.51" lengthAdjust="spacingAndGlyphs">Retail</text>
<text x="559.35" y="770" font-size="12.06" fill="#333" textLength="40.50" lengthAdjust="spacingAndGlyphs">Services</text>
<text x="1214.60" y="542" font-size="10.32" fill="#1565c0" textLength="40.82" lengthAdjust="spacingAndGlyphs">Last year</text>
<text x="1270.00" y="542" font-size="10.32" fill="#1565c0" textLength="38.89" lengthAdjust="spacingAndGlyphs">All users</text>
<text x="697.70" y="560" font-size="12.50" fill="#555" stroke="#555" stroke-width="0.8" textLength="273.92" lengthAdjust="spacingAndGlyphs">Accounts by Date of Registration and by Industry</text>
<text x="704.30" y="599" font-size="10.17" fill="#333" textLength="5.30" lengthAdjust="spacingAndGlyphs">2</text>
<text x="690.90" y="652" font-size="10.17" fill="#333" textLength="18.71" lengthAdjust="spacingAndGlyphs">1,33</text>
<text x="690.90" y="704" font-size="10.17" fill="#333" textLength="18.71" lengthAdjust="spacingAndGlyphs">0,67</text>
<text x="704.60" y="756" font-size="10.17" fill="#333" textLength="5.00" lengthAdjust="spacingAndGlyphs">0</text>
</svg>
</body></html>
